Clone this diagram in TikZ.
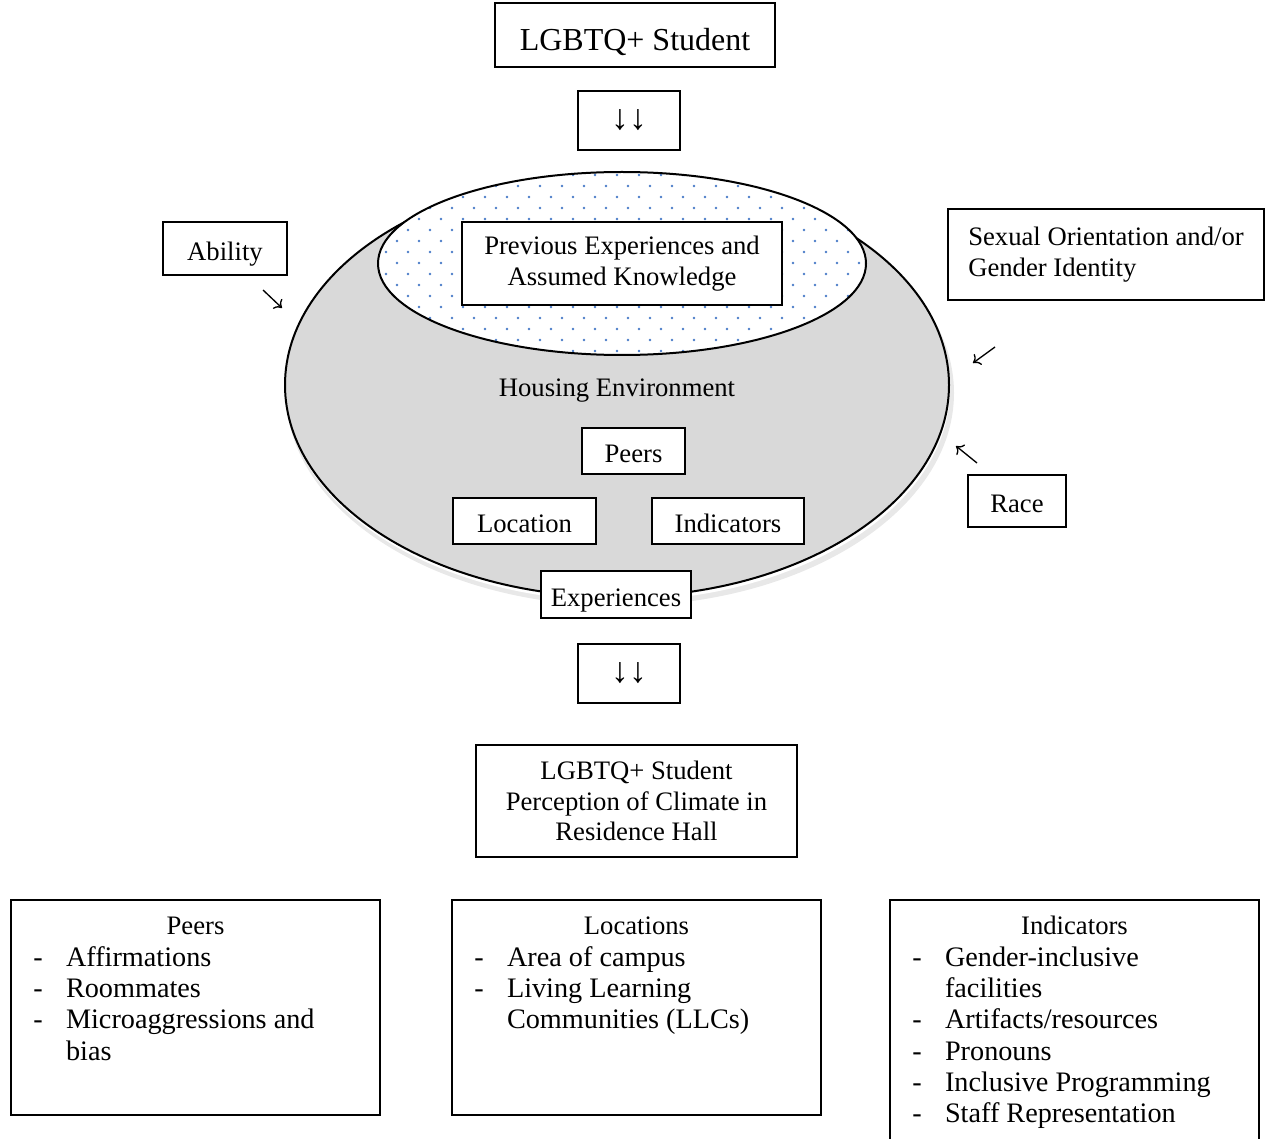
\documentclass[tikz,border=0pt]{standalone}
\usepackage{fontspec}
\setmainfont{Liberation Serif}
\usepackage{xcolor}
\usepackage{tikz}
\usetikzlibrary{positioning}
\usetikzlibrary{arrows.meta}

\definecolor{dotblue}{HTML}{4A7CC8}
\definecolor{envgray}{HTML}{D9D9D9}

\tikzset{
  box/.style={draw,line width=0.6pt,fill=white,align=center,inner sep=0pt,font=\fontsize{12}{13.8}\selectfont},
  oneline/.style={text height=10.4pt,text depth=0pt},
  arrbox/.style={box,minimum width=45.9pt,minimum height=26.55pt,font=\fontsize{16}{18}\selectfont},
  listbox/.style={draw,line width=0.6pt,minimum width=166pt,inner sep=0pt},
  listtxt/.style={text width=146pt,align=flush left,inner xsep=10pt,inner ysep=5.9pt,font=\fontsize{12.7}{14.1}\selectfont},
  smallarr/.style={-{To[length=3pt,width=6pt]},line width=0.6pt}
}
\newcommand{\dash}{\makebox[14.75pt][l]{-}}
\newcommand{\ttl}[1]{\strut\makebox[146pt][c]{\fontsize{12}{14.1}\selectfont #1}}

\begin{document}
\begin{tikzpicture}[x=0.45pt,y=-0.45pt]
	\useasboundingbox (0,0) rectangle (1265,1139);
	% top of the chain
	\node[box,minimum width=126pt,minimum height=28.8pt,text height=14pt,text depth=0pt,font=\fontsize{14.4}{17}\selectfont] (student) at (635,35) {LGBTQ+ Student};
	\node[arrbox] (down1) at (629,120.5) {↓↓};

	% housing environment, with its shadow
	\fill[black!9] (620,393) ellipse [x radius=334, y radius=213];
	\fill[white] (618,389) ellipse [x radius=332, y radius=212];
	\draw[line width=0.9pt,fill=envgray] (617,385) ellipse [x radius=332, y radius=212];
	\fill[white] (622,263.5) ellipse [x radius=244, y radius=91.5];
	\begin{scope}
		\clip (622,263.5) ellipse [x radius=243, y radius=90.5];
		\foreach \r in {0,...,17}
			\foreach \c in {0,...,22}
				\fill[dotblue] ({375+22*\c+11*mod(\r,2)},{175+11*\r}) circle (0.65pt);
	\end{scope}
	\draw[line width=0.9pt] (622,263.5) ellipse [x radius=244, y radius=91.5];
	\node[box,minimum width=144pt,minimum height=37.35pt] (prev) at (622,263.5) {Previous Experiences and\\Assumed Knowledge};
	\node[oneline,font=\fontsize{12}{13.8}\selectfont] (housing) at (617,385) {Housing Environment};
	\node[box,oneline,minimum width=46.35pt,minimum height=20.7pt] (peers) at (633.5,451) {Peers};
	\node[box,oneline,minimum width=64.35pt,minimum height=20.7pt] (location) at (524.5,521) {Location};
	\node[box,oneline,minimum width=68.4pt,minimum height=20.7pt] (indicators) at (728,521) {Indicators};
	\node[box,oneline,minimum width=67.5pt,minimum height=21.15pt] (experiences) at (616,594.5) {Experiences};

	% outside influences
	\node[box,oneline,minimum width=55.8pt,minimum height=23.85pt] (ability) at (225,248.5) {Ability};
	\node[box,align=flush left,minimum width=142.2pt,minimum height=40.95pt] (identity) at (1106,254.5) {Sexual Orientation and/or\\Gender Identity};
	\node[box,oneline,minimum width=44.1pt,minimum height=23.4pt] (race) at (1017,501) {Race};
	\coordinate (abl1) at (263,290);
	\coordinate (abl2) at (282,308);
	\coordinate (idt1) at (995,347);
	\coordinate (idt2) at (973,363);
	\coordinate (rce1) at (977,463);
	\coordinate (rce2) at (956,446);
	\draw[smallarr] (abl1) -- (abl2);
	\draw[smallarr] (idt1) -- (idt2);
	\draw[smallarr] (rce1) -- (rce2);

	% outcome
	\node[arrbox] (down2) at (629,673.5) {↓↓};
	\node[box,minimum width=144.45pt,minimum height=50.4pt] (climate) at (636.5,801) {LGBTQ+ Student\\Perception of Climate in\\Residence Hall};

	% the three lists
	\node[listbox,minimum height=96.75pt] (peersbox) at (195.5,1007.5) {};
	\node[listtxt,below=0pt of peersbox.north] (peerslist) {\ttl{Peers}\\
		\dash Affirmations\\
		\dash Roommates\\
		\dash Microaggressions and\\
		\hspace*{14.75pt}bias};
	\node[listbox,minimum height=96.75pt] (locbox) at (636.5,1007.5) {};
	\node[listtxt,below=0pt of locbox.north] (loclist) {\ttl{Locations}\\
		\dash Area of campus\\
		\dash Living Learning\\
		\hspace*{14.75pt}Communities (LLCs)};
	\node[listbox,minimum height=113pt] (indbox) at (1074.5,1025.5) {};
	\node[listtxt,below=0pt of indbox.north] (indlist) {\ttl{Indicators}\\
		\dash Gender-inclusive\\
		\hspace*{14.75pt}facilities\\
		\dash Artifacts/resources\\
		\dash Pronouns\\
		\dash Inclusive Programming\\
		\dash Staff Representation};
\end{tikzpicture}
\end{document}
